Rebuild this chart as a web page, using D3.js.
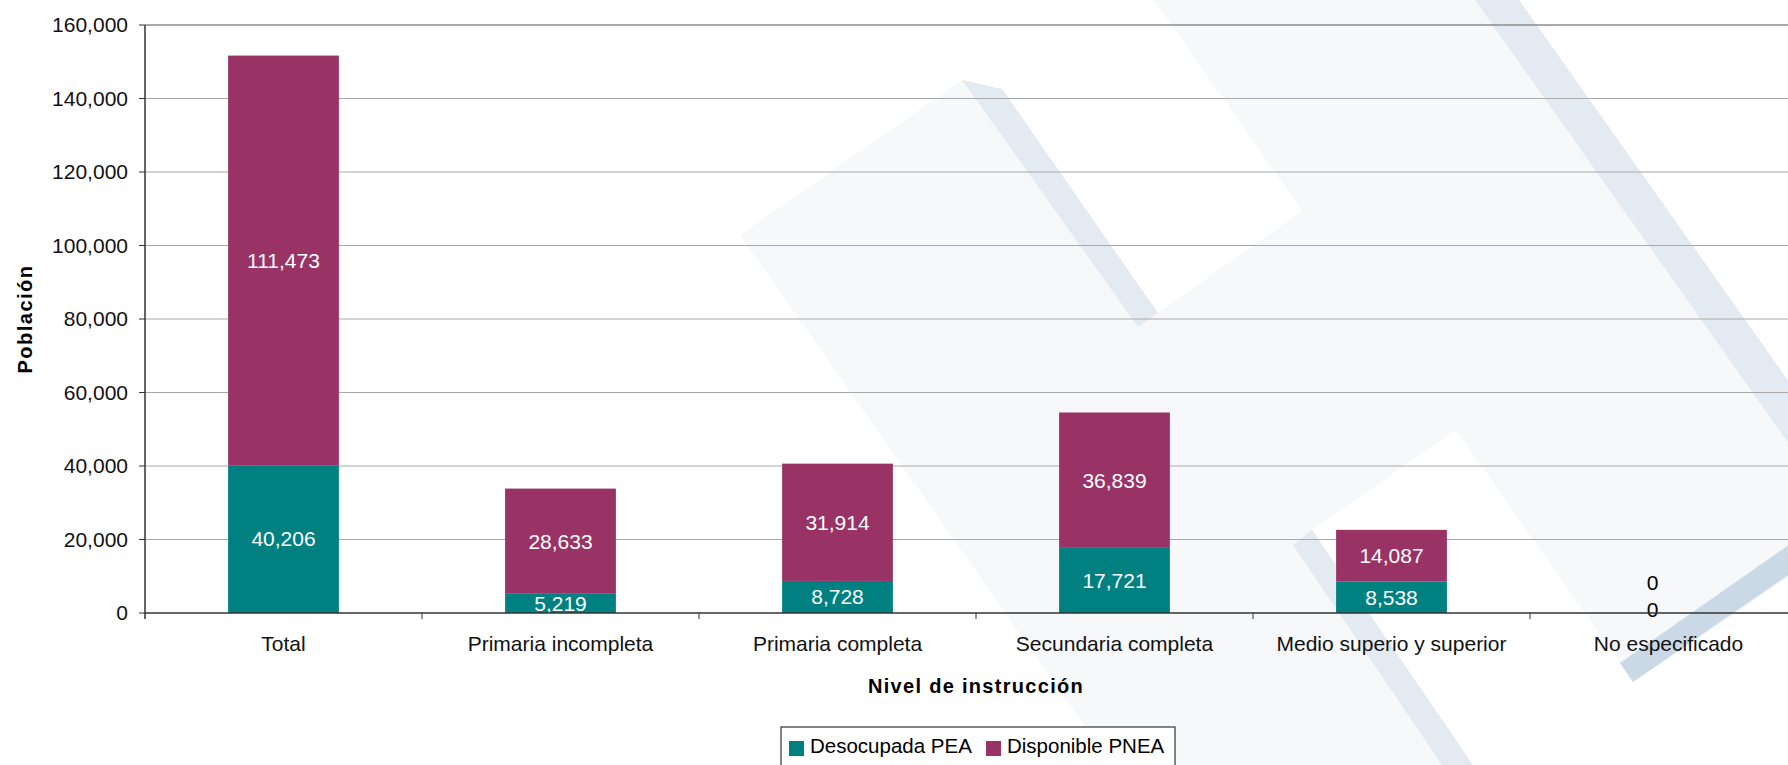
<!DOCTYPE html>
<html>
<head>
<meta charset="utf-8">
<script src="https://cdnjs.cloudflare.com/ajax/libs/d3/7.8.5/d3.min.js"></script>
<style>
  body { margin: 0; background: #fff; }
  svg { display: block; font-family: "Liberation Sans", Arial, sans-serif; }
</style>
</head>
<body>
<div id="chart"></div>
<script>
// data
var categories = ["Total", "Primaria incompleta", "Primaria completa", "Secundaria completa", "Medio superio y superior", "No especificado"];
var desocupada = [40206, 5219, 8728, 17721, 8538, 0];
var disponible = [111473, 28633, 31914, 36839, 14087, 0];
var seriesNames = ["Desocupada PEA", "Disponible PNEA"];
var yTicks = [0, 20000, 40000, 60000, 80000, 100000, 120000, 140000, 160000];

var colors = ["#008080", "#993366"];

var totalW = 1788, totalH = 765;
var margin = {top: 25, left: 145},
    width = 1662,   // plot runs past the right edge of the picture
    height = 588;

var svg = d3.select("#chart")
    .append("svg")
        .attr("width", totalW)
        .attr("height", totalH);

// background watermark (decoration only)
var bg = svg.append("g");
bg.append("path").attr("fill", "#f7f8fa")
    .attr("d", "M740,235L962,80L1138,327L1302,211L1154,0L1500,0L2040,765L1112,765Z");
bg.append("path").attr("fill", "#ffffff")
    .attr("d", "M1312,530L1456,430L1620,663L1633,682L1800,570L1800,765L1473,765Z");
bg.append("path").attr("fill", "#e4eaf2").attr("d", "M962,80L1002,89L1158,313L1138,327Z");
bg.append("path").attr("fill", "#e4eaf2").attr("d", "M1475,0L1519,0L2060,765L2016,765Z");
bg.append("path").attr("fill", "#e4eaf2").attr("d", "M1293,545L1312,530L1473,765L1442,765Z");
bg.append("path").attr("fill", "#cbd8e6").attr("d", "M1620,663L1633,682L1800,567L1800,537Z");

var g = svg.append("g")
    .attr("transform", "translate(" + margin.left + "," + margin.top + ")");

// scales
var x = d3.scaleBand().domain(categories).range([0, width]).paddingInner(0.6).paddingOuter(0.3);
var y = d3.scaleLinear().domain([0, 160000]).range([height, 0]);
var step = x.step();

// gridlines
g.selectAll(".grid").data(yTicks.slice(1)).enter().append("line")
    .attr("x1", 0).attr("x2", width)
    .attr("y1", function(d) { return y(d); }).attr("y2", function(d) { return y(d); })
    .attr("stroke", function(d) { return d === 160000 ? "#8c8c8c" : "#a8a8a8"; })
    .attr("stroke-width", function(d) { return d === 160000 ? 1.6 : 1; });

// stacked bars
var rows = categories.map(function(c, i) { return {cat: c, a: desocupada[i], b: disponible[i]}; });
var stack = d3.stack().keys(["a", "b"])(rows);

var layers = g.selectAll(".layer").data(stack).enter().append("g")
    .attr("fill", function(d, i) { return colors[i]; });
layers.selectAll("rect").data(function(d) { return d; }).enter().append("rect")
    .attr("x", function(d) { return x(d.data.cat); })
    .attr("width", x.bandwidth())
    .attr("y", function(d) { return y(d[1]); })
    .attr("height", function(d) { return y(d[0]) - y(d[1]); });

// value labels
stack.forEach(function(layer, li) {
    g.selectAll(".lbl" + li).data(layer).enter().append("text")
        .attr("x", function(d) { return x(d.data.cat) + x.bandwidth() / 2 - (d[1] - d[0] === 0 ? 16 : 0); })
        .attr("y", function(d) {
            var v = d[1] - d[0];
            if (v === 0) return y(0) - 3 - li * 27;
            return (y(d[0]) + y(d[1])) / 2;
        })
        .attr("dy", "0.35em")
        .attr("text-anchor", "middle")
        .style("font-size", "21px")
        .attr("fill", function(d) { return d[1] - d[0] === 0 ? "#000" : "#fff"; })
        .text(function(d) { return d3.format(",")(d[1] - d[0]); });
});

// y axis
g.append("line").attr("x1", 0).attr("x2", 0).attr("y1", 0).attr("y2", height + 6)
    .attr("stroke", "#333").attr("stroke-width", 1.5);
g.selectAll(".ytick").data(yTicks).enter().append("line")
    .attr("x1", -6).attr("x2", 0)
    .attr("y1", function(d) { return y(d); }).attr("y2", function(d) { return y(d); })
    .attr("stroke", "#333");
g.selectAll(".ylab").data(yTicks).enter().append("text")
    .attr("x", -17).attr("y", function(d) { return y(d); })
    .attr("dy", "0.35em")
    .attr("text-anchor", "end")
    .style("font-size", "21px")
    .attr("fill", "#111")
    .text(function(d) { return d3.format(",")(d); });

// x axis
g.append("line").attr("x1", 0).attr("x2", width).attr("y1", height).attr("y2", height)
    .attr("stroke", "#333").attr("stroke-width", 1.5);
g.selectAll(".xtick").data(categories.slice(1)).enter().append("line")
    .attr("x1", function(d) { return x(d) - step * 0.3; })
    .attr("x2", function(d) { return x(d) - step * 0.3; })
    .attr("y1", height).attr("y2", height + 6)
    .attr("stroke", "#333");
g.selectAll(".xlab").data(categories).enter().append("text")
    .attr("x", function(d) { return x(d) + x.bandwidth() / 2; })
    .attr("y", height + 38)
    .attr("text-anchor", "middle")
    .style("font-size", "21px")
    .attr("fill", "#111")
    .text(function(d) { return d; });

// axis titles
svg.append("text")
    .attr("transform", "translate(" + (margin.left + width / 2) + "," + 693 + ")")
    .attr("text-anchor", "middle")
    .style("font-size", "20px").style("font-weight", "bold").style("letter-spacing", "1.3px")
    .text("Nivel de instrucción");
svg.append("text")
    .attr("transform", "translate(32," + (margin.top + height / 2) + ") rotate(-90)")
    .attr("text-anchor", "middle")
    .style("font-size", "20px").style("font-weight", "bold").style("letter-spacing", "1.5px")
    .text("Población");

// legend
var legend = svg.append("g").attr("transform", "translate(781,727)");
legend.append("rect").attr("width", 394).attr("height", 40)
    .attr("fill", "#fff").attr("stroke", "#333").attr("stroke-width", 1.2);
var items = legend.selectAll(".item").data(seriesNames).enter().append("g")
    .attr("transform", function(d, i) { return "translate(" + (8 + i * 197) + ",0)"; });
items.append("rect").attr("y", 14).attr("width", 15).attr("height", 15)
    .attr("fill", function(d, i) { return colors[i]; });
items.append("text").attr("x", 21).attr("y", 26)
    .style("font-size", "20.5px")
    .text(function(d) { return d; });
</script>
</body>
</html>
